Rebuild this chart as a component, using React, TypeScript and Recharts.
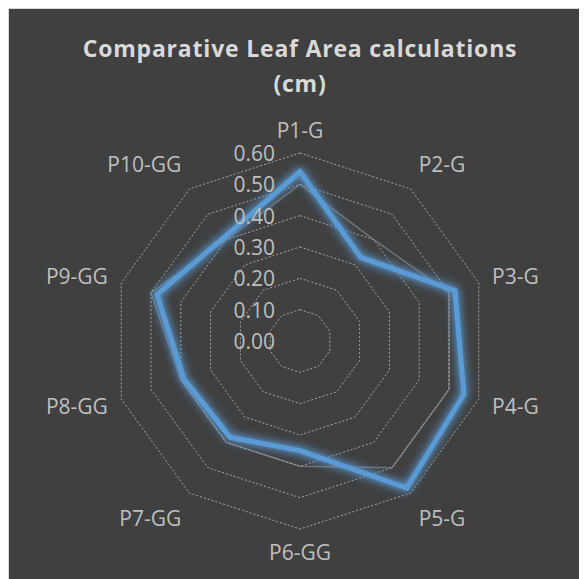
import { RadarChart, Radar, PolarGrid, PolarAngleAxis, PolarRadiusAxis } from "recharts";

const categories = ["P1-G", "P2-G", "P3-G", "P4-G", "P5-G", "P6-GG", "P7-GG", "P8-GG", "P9-GG", "P10-GG"];
const leafArea = [0.54, 0.33, 0.52, 0.55, 0.58, 0.35, 0.38, 0.39, 0.48, 0.41];
const shadowArea = [0.5, 0.4, 0.5, 0.5, 0.5, 0.4, 0.4, 0.4, 0.5, 0.4];
const radiusTicks = [0, 0.1, 0.2, 0.3, 0.4, 0.5, 0.6];

const data = categories.map((name, i) => ({ name, leaf: leafArea[i], shadow: shadowArea[i] }));

const CX = 291;
const CY = 332;
const R = 188;
const labelColor = "#bfbfbf";
const font = "'Open Sans', sans-serif";

const RadiusTick = (props: any) => {
  const { x, y, payload } = props;
  return (
    <text x={x - 25} y={y} textAnchor="end" dominantBaseline="central" fill={labelColor} fontSize={21} fontFamily={font}>
      {Number(payload.value).toFixed(2)}
    </text>
  );
};

const AngleTick = (props: any) => {
  const { payload, index } = props;
  const angle = ((90 - index * (360 / categories.length)) * Math.PI) / 180;
  const dx = Math.cos(angle);
  const dy = -Math.sin(angle);
  const r = R + 14;
  const x = CX + dx * r;
  // diagonal labels sit a little further out, like Excel does
  const y = CY + dy * r + dy * 9 + (Math.abs(dy) > 0.5 && Math.abs(dy) < 0.9 ? dy * 8 : 0);
  const anchor = dx > 0.01 ? "start" : dx < -0.01 ? "end" : "middle";
  return (
    <text x={x} y={y} textAnchor={anchor} dominantBaseline="central" fill={labelColor} fontSize={21} fontFamily={font}>
      {payload.value}
    </text>
  );
};

export default function App() {
  return (
    <div
      style={{
        position: "relative",
        width: 582,
        height: 600,
        background: "#404040",
        border: "1px solid #d9d9d9",
        fontFamily: font,
      }}
    >
      <style>{`.leaf-radar path { filter: drop-shadow(0 0 5px rgba(91,155,213,0.85)) drop-shadow(0 0 2px rgba(91,155,213,0.7)); }`}</style>
      <div
        style={{
          position: "absolute",
          top: 22,
          left: 0,
          width: "100%",
          textAlign: "center",
          color: "#d9d9d9",
          fontWeight: 700,
          fontSize: 23,
          lineHeight: "35px",
          letterSpacing: 0.8,
        }}
      >
        Comparative Leaf Area calculations
        <br />
        (cm)
      </div>
      <RadarChart width={582} height={600} data={data} cx={CX} cy={CY} outerRadius={R} margin={{ top: 0, right: 0, bottom: 0, left: 0 }}>
        <PolarGrid gridType="polygon" radialLines={false} stroke="#a6a6a6" strokeDasharray="2 2" strokeWidth={1} />
        <PolarAngleAxis dataKey="name" tick={AngleTick} axisLine={false} tickLine={false} />
        <PolarRadiusAxis
          type="number"
          angle={90}
          domain={[radiusTicks[0], radiusTicks[radiusTicks.length - 1]]}
          ticks={radiusTicks}
          tickCount={radiusTicks.length}
          allowDecimals
          allowDataOverflow
          axisLine={false}
          tickLine={false}
          tick={RadiusTick}
        />
        <Radar
          dataKey="shadow"
          stroke="#a6a6a6"
          strokeOpacity={0.5}
          strokeWidth={1.5}
          fill="none"
          fillOpacity={0}
          dot={false}
          isAnimationActive={false}
        />
        <Radar
          className="leaf-radar"
          dataKey="leaf"
          stroke="#5b9bd5"
          strokeWidth={5}
          strokeLinejoin="miter"
          fill="none"
          fillOpacity={0}
          dot={false}
          isAnimationActive={false}
        />
      </RadarChart>
    </div>
  );
}
